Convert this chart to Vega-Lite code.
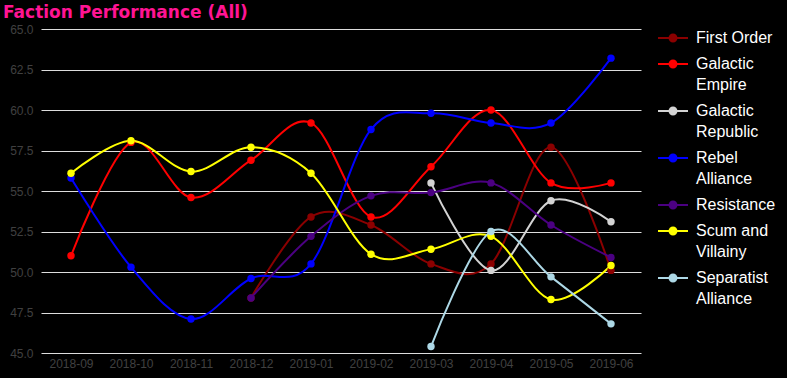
{
  "$schema": "https://vega.github.io/schema/vega-lite/v6.json",
  "width": 600,
  "height": 324,
  "autosize": {"type": "none"},
  "padding": {"left": 41, "top": 29, "right": 146, "bottom": 25},
  "background": "#000000",
  "title": {
    "text": "Faction Performance (All)",
    "anchor": "start",
    "frame": "group",
    "dx": -38,
    "offset": 0,
    "font": "DejaVu Sans",
    "fontSize": 17,
    "fontWeight": "bold",
    "color": "#ff1493"
  },
  "data": {
    "values": [
      {"month": "2018-12", "faction": "First Order", "value": 48.4},
      {"month": "2019-01", "faction": "First Order", "value": 53.4},
      {"month": "2019-02", "faction": "First Order", "value": 52.9},
      {"month": "2019-03", "faction": "First Order", "value": 50.5},
      {"month": "2019-04", "faction": "First Order", "value": 50.5},
      {"month": "2019-05", "faction": "First Order", "value": 57.7},
      {"month": "2019-06", "faction": "First Order", "value": 50.1},
      {"month": "2018-09", "faction": "Galactic Empire", "value": 51.0},
      {"month": "2018-10", "faction": "Galactic Empire", "value": 58.0},
      {"month": "2018-11", "faction": "Galactic Empire", "value": 54.6},
      {"month": "2018-12", "faction": "Galactic Empire", "value": 56.9},
      {"month": "2019-01", "faction": "Galactic Empire", "value": 59.2},
      {"month": "2019-02", "faction": "Galactic Empire", "value": 53.4},
      {"month": "2019-03", "faction": "Galactic Empire", "value": 56.5},
      {"month": "2019-04", "faction": "Galactic Empire", "value": 60.0},
      {"month": "2019-05", "faction": "Galactic Empire", "value": 55.5},
      {"month": "2019-06", "faction": "Galactic Empire", "value": 55.5},
      {"month": "2019-03", "faction": "Galactic Republic", "value": 55.5},
      {"month": "2019-04", "faction": "Galactic Republic", "value": 50.1},
      {"month": "2019-05", "faction": "Galactic Republic", "value": 54.4},
      {"month": "2019-06", "faction": "Galactic Republic", "value": 53.1},
      {"month": "2018-09", "faction": "Rebel Alliance", "value": 55.8},
      {"month": "2018-10", "faction": "Rebel Alliance", "value": 50.3},
      {"month": "2018-11", "faction": "Rebel Alliance", "value": 47.1},
      {"month": "2018-12", "faction": "Rebel Alliance", "value": 49.6},
      {"month": "2019-01", "faction": "Rebel Alliance", "value": 50.5},
      {"month": "2019-02", "faction": "Rebel Alliance", "value": 58.8},
      {"month": "2019-03", "faction": "Rebel Alliance", "value": 59.8},
      {"month": "2019-04", "faction": "Rebel Alliance", "value": 59.2},
      {"month": "2019-05", "faction": "Rebel Alliance", "value": 59.2},
      {"month": "2019-06", "faction": "Rebel Alliance", "value": 63.2},
      {"month": "2018-12", "faction": "Resistance", "value": 48.4},
      {"month": "2019-01", "faction": "Resistance", "value": 52.2},
      {"month": "2019-02", "faction": "Resistance", "value": 54.7},
      {"month": "2019-03", "faction": "Resistance", "value": 54.9},
      {"month": "2019-04", "faction": "Resistance", "value": 55.5},
      {"month": "2019-05", "faction": "Resistance", "value": 52.9},
      {"month": "2019-06", "faction": "Resistance", "value": 50.9},
      {"month": "2018-09", "faction": "Scum and Villainy", "value": 56.1},
      {"month": "2018-10", "faction": "Scum and Villainy", "value": 58.1},
      {"month": "2018-11", "faction": "Scum and Villainy", "value": 56.2},
      {"month": "2018-12", "faction": "Scum and Villainy", "value": 57.7},
      {"month": "2019-01", "faction": "Scum and Villainy", "value": 56.1},
      {"month": "2019-02", "faction": "Scum and Villainy", "value": 51.1},
      {"month": "2019-03", "faction": "Scum and Villainy", "value": 51.4},
      {"month": "2019-04", "faction": "Scum and Villainy", "value": 52.2},
      {"month": "2019-05", "faction": "Scum and Villainy", "value": 48.3},
      {"month": "2019-06", "faction": "Scum and Villainy", "value": 50.4},
      {"month": "2019-03", "faction": "Separatist Alliance", "value": 45.4},
      {"month": "2019-04", "faction": "Separatist Alliance", "value": 52.5},
      {"month": "2019-05", "faction": "Separatist Alliance", "value": 49.7},
      {"month": "2019-06", "faction": "Separatist Alliance", "value": 46.8}
    ]
  },
  "encoding": {
    "x": {
      "field": "month",
      "type": "ordinal",
      "scale": {"type": "point", "padding": 0.5},
      "axis": {"title": null, "labelAngle": 0, "grid": false, "labelPadding": 5}
    },
    "y": {
      "field": "value",
      "type": "quantitative",
      "scale": {"domain": [45, 65], "nice": false, "zero": false},
      "axis": {"title": null, "format": ".1f", "values": [45, 47.5, 50, 52.5, 55, 57.5, 60, 62.5, 65], "grid": true, "labelPadding": 8}
    },
    "color": {
      "field": "faction",
      "type": "nominal",
      "scale": {
        "domain": ["First Order", "Galactic Empire", "Galactic Republic", "Rebel Alliance", "Resistance", "Scum and Villainy", "Separatist Alliance"],
        "range": ["#8b0000", "#ff0000", "#d3d3d3", "#0000ff", "#4b0082", "#ffff00", "#add8e6"]
      },
      "legend": {
        "title": null,
        "orient": "none",
        "legendX": 616,
        "legendY": -7,
        "padding": 0,
        "rowPadding": 2,
        "symbolType": "M-1,0H1M0.23,0A0.23,0.23,0,1,1,-0.23,0A0.23,0.23,0,1,1,0.23,0Z",
        "symbolSize": 900,
        "symbolStrokeWidth": 2,
        "labelColor": "#ffffff",
        "labelFont": "Liberation Sans",
        "labelFontSize": 16,
        "labelOffset": 7,
        "labelLimit": 200,
        "labelExpr": "datum.label == 'Scum and Villainy' ? ['Scum and', 'Villainy'] : (datum.label == 'First Order' || datum.label == 'Resistance') ? datum.label : split(datum.label, ' ')",
        "encode": {
          "symbols": {"update": {"fill": {"scale": "color", "field": "value"}, "fillOpacity": {"value": 1}}},
          "labels": {"update": {"lineHeight": {"value": 21}}}
        }
      }
    }
  },
  "layer": [
    {"mark": {"type": "line", "interpolate": "cardinal", "tension": 0, "strokeWidth": 2}},
    {"mark": {"type": "point", "filled": true, "size": 55, "opacity": 1}}
  ],
  "config": {
    "view": {"stroke": null},
    "axis": {
      "domain": false,
      "ticks": false,
      "gridColor": "#dddddd",
      "gridWidth": 1,
      "gridOpacity": 1,
      "labelColor": "#404040",
      "labelFont": "Liberation Sans",
      "labelFontSize": 12
    }
  }
}
